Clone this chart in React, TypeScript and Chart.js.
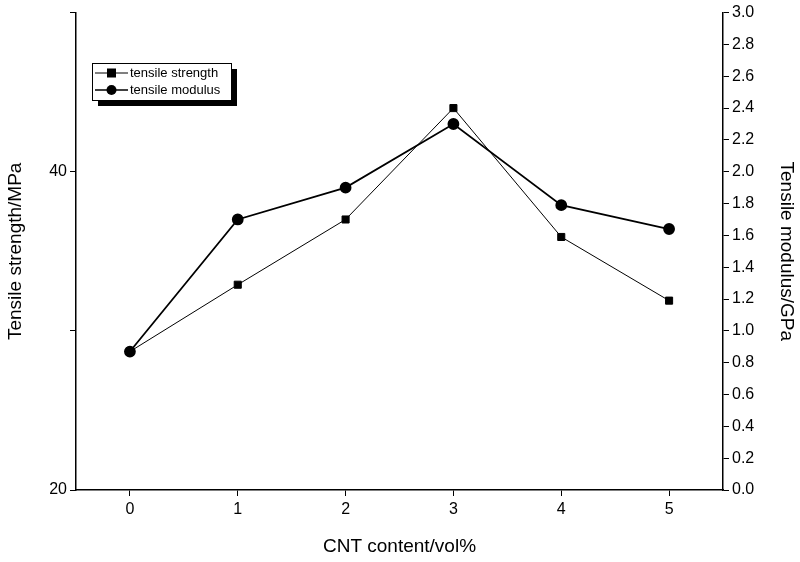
import React, { useEffect, useRef } from "react";
import { Chart, registerables } from "chart.js";
Chart.register(...registerables);

const categories = [0, 1, 2, 3, 4, 5];
const strength = [28.7, 32.9, 37.0, 44.0, 35.9, 31.9];
const modulus = [0.87, 1.7, 1.9, 2.3, 1.79, 1.64];
const xTicks = [0, 1, 2, 3, 4, 5];
const leftTicks = [20, 40];
const rightTicks = [0, 0.2, 0.4, 0.6, 0.8, 1.0, 1.2, 1.4, 1.6, 1.8, 2.0, 2.2, 2.4, 2.6, 2.8, 3.0];

const FONT = "Arial, 'Liberation Sans', sans-serif";

const legendPlugin = {
  id: "boxLegend",
  afterDraw(chart: any) {
    const ctx = chart.ctx;
    const x = 92, y = 63, w = 139, h = 37;
    ctx.save();
    ctx.fillStyle = "#000";
    ctx.fillRect(x + 6, y + 6, w, h);
    ctx.fillStyle = "#fff";
    ctx.fillRect(x, y, w, h);
    ctx.strokeStyle = "#000";
    ctx.lineWidth = 1;
    ctx.strokeRect(x + 0.5, y + 0.5, w, h);
    const rows = [
      { label: "tensile strength", y: y + 10, shape: "sq", lw: 1 },
      { label: "tensile modulus", y: y + 27, shape: "ci", lw: 1.5 },
    ];
    ctx.font = `13px ${FONT}`;
    ctx.textBaseline = "middle";
    for (const r of rows) {
      ctx.lineWidth = r.lw;
      ctx.beginPath();
      ctx.moveTo(x + 3, r.y);
      ctx.lineTo(x + 36, r.y);
      ctx.stroke();
      ctx.fillStyle = "#000";
      if (r.shape === "sq") ctx.fillRect(x + 15, r.y - 4.5, 9, 9);
      else { ctx.beginPath(); ctx.arc(x + 19.5, r.y, 5, 0, Math.PI * 2); ctx.fill(); }
      ctx.fillText(r.label, x + 38, r.y);
    }
    ctx.restore();
  },
};

export default function App() {
  const ref = useRef<HTMLCanvasElement>(null);
  useEffect(() => {
    document.body.style.margin = "0";
    const tickCommon = { color: "#000", font: { size: 16, family: FONT } };
    const grid = { display: true, drawOnChartArea: false, drawTicks: true, tickLength: 6, tickColor: "#000" };
    const chart = new Chart(ref.current!, {
      type: "line",
      data: {
        datasets: [
          {
            label: "tensile strength",
            data: categories.map((c, i) => ({ x: c, y: strength[i] })),
            yAxisID: "y",
            borderColor: "#000",
            backgroundColor: "#000",
            borderWidth: 1,
            pointStyle: "rect",
            pointRadius: 5,
          },
          {
            label: "tensile modulus",
            data: categories.map((c, i) => ({ x: c, y: modulus[i] })),
            yAxisID: "y1",
            borderColor: "#000",
            backgroundColor: "#000",
            borderWidth: 1.8,
            pointStyle: "circle",
            pointRadius: 5,
          },
        ],
      },
      options: {
        animation: false,
        responsive: false,
        layout: { padding: { top: 10, right: 0, left: 0, bottom: 0 } },
        plugins: { legend: { display: false }, tooltip: { enabled: false } },
        scales: {
          x: {
            type: "linear",
            min: -0.5,
            max: 5.5,
            afterBuildTicks: (s: any) => { s.ticks = xTicks.map((v) => ({ value: v })); },
            afterFit: (s: any) => { s.height = 72; },
            ticks: { ...tickCommon, padding: 4 },
            grid,
            border: { color: "#000", width: 1.5 },
            title: { display: true, text: "CNT content/vol%", color: "#000", font: { size: 19, family: FONT }, padding: { top: 12 } },
          },
          y: {
            position: "left",
            min: 20,
            max: 50,
            afterBuildTicks: (s: any) => { s.ticks = [20, 30, 40, 50].map((v) => ({ value: v })); },
            afterFit: (s: any) => { s.width = 76; },
            ticks: { ...tickCommon, callback: (v: any) => (leftTicks.includes(v) ? String(v) : "") },
            grid,
            border: { color: "#000", width: 1.5 },
            title: { display: true, text: "Tensile strength/MPa", color: "#000", font: { size: 19, family: FONT }, padding: { bottom: 6 } },
          },
          y1: {
            position: "right",
            min: 0,
            max: 3,
            afterBuildTicks: (s: any) => { s.ticks = rightTicks.map((v) => ({ value: v })); },
            afterFit: (s: any) => { s.width = 77; },
            ticks: { ...tickCommon, callback: (v: any) => Number(v).toFixed(1) },
            grid,
            border: { color: "#000", width: 1.5 },
            title: { display: true, text: "Tensile modulus/GPa", color: "#000", font: { size: 19, family: FONT }, padding: { top: 2 } },
          },
        },
      },
      plugins: [legendPlugin],
    });
    return () => chart.destroy();
  }, []);
  return <canvas ref={ref} width={800} height={562} style={{ display: "block", background: "#fff" }} />;
}
